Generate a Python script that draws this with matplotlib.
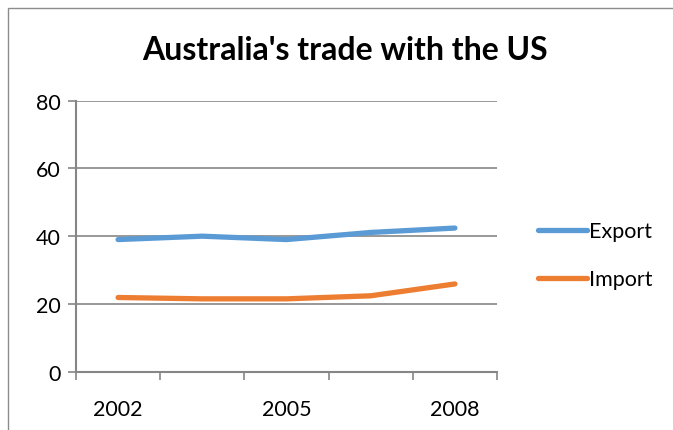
import matplotlib.pyplot as plt
import matplotlib.patches as mpatches

# data
years = ['2002', '2003', '2005', '2006', '2008']
export = [39.0, 40.0, 39.0, 41.1, 42.4]
imports = [21.9, 21.5, 21.5, 22.4, 25.9]
shown_labels = ['2002', '', '2005', '', '2008']

blue = '#5B9BD5'
orange = '#ED7D31'
grey = '#868686'

plt.rcParams['font.family'] = ['Lato', 'DejaVu Sans']

fig = plt.figure(figsize=(6.73, 4.31), dpi=100)
ax = fig.add_axes([0.1129, 0.1353, 0.6256, 0.6288])

x = list(range(len(years)))
ax.plot(x, export, color=blue, lw=3.8, solid_capstyle='round', label='Export', zorder=3)
ax.plot(x, imports, color=orange, lw=3.8, solid_capstyle='round', label='Import', zorder=3)

ax.set_xlim(-0.5, len(years) - 0.5)
ax.set_ylim(0, 80)
ax.set_yticks([0, 20, 40, 60, 80])
ax.yaxis.grid(True, color=grey, lw=1.2)
ax.set_axisbelow(True)

# category boundaries get the tick marks, labels sit on every other category
ax.set_xticks([i - 0.5 for i in range(len(years) + 1)])
ax.set_xticklabels([])
ax.set_xticks(x, minor=True)
ax.set_xticklabels(shown_labels, minor=True)
ax.tick_params(axis='x', which='major', length=6, width=1.2, color=grey, direction='out')
ax.tick_params(axis='x', which='minor', length=0, pad=20, labelsize=15.5)
ax.tick_params(axis='y', length=6, width=1.2, color=grey, labelsize=15.5, pad=5)

for s in ['top', 'right']:
    ax.spines[s].set_visible(False)
for s in ['left', 'bottom']:
    ax.spines[s].set_color(grey)
    ax.spines[s].set_linewidth(1.5)

fig.text(0.512, 0.882, "Australia's trade with the US", ha='center', va='center',
         fontsize=23, fontweight='bold')

fig.legend(loc='center left', bbox_to_anchor=(0.77, 0.405), frameon=False,
           fontsize=15.5, handlelength=2.3, handletextpad=0.1, labelspacing=1.3)

# outer chart frame, partly cut off like in the screenshot
fig.patches.append(mpatches.Rectangle((8 / 673, -0.1), 1.0, (431 - 9) / 431 + 0.1,
                                      transform=fig.transFigure, fill=False,
                                      edgecolor='#8c8c8c', lw=1.0))

fig.savefig('out.png', dpi=100)
